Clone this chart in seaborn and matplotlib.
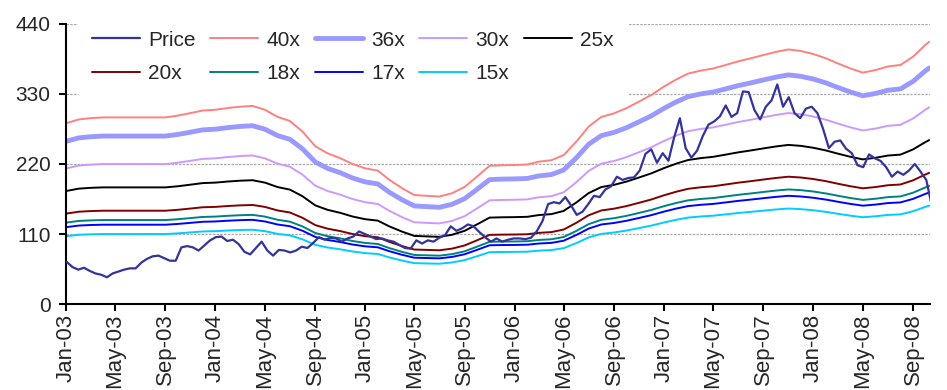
import matplotlib
matplotlib.use('Agg')
import matplotlib.pyplot as plt
import matplotlib.dates as mdates
import numpy as np
import pandas as pd
import seaborn as sns

# forward EPS (monthly, plus last obs)
eps_dates = pd.date_range('2003-01-01', '2008-10-01', freq='MS').append(pd.DatetimeIndex(['2008-10-10']))
eps = [7.10, 7.25, 7.30, 7.33, 7.33, 7.33, 7.33, 7.33, 7.33, 7.40,
       7.50, 7.60, 7.63, 7.70, 7.75, 7.78, 7.63, 7.35, 7.19, 6.77,
       6.20, 5.92, 5.73, 5.50, 5.33, 5.24, 4.88, 4.55, 4.28, 4.25,
       4.22, 4.35, 4.60, 5.00, 5.43, 5.45, 5.46, 5.48, 5.59, 5.65,
       5.85, 6.38, 6.97, 7.35, 7.49, 7.69, 7.95, 8.21, 8.54, 8.83,
       9.05, 9.17, 9.25, 9.39, 9.53, 9.65, 9.78, 9.90, 10.00, 9.94,
       9.82, 9.65, 9.45, 9.25, 9.09, 9.19, 9.33, 9.39, 9.72, 10.18, 10.30]

multiples = [40, 36, 30, 25, 20, 18, 17, 15]
band_colors = ['#FF8080', '#9999FF', '#CC99FF', '#000000', '#800000', '#008080', '#0000FF', '#00CCFF']

# share price, every second friday
price_dates = pd.date_range('2003-01-03', periods=152, freq='2W-FRI')
price = [66, 58, 54, 57, 52, 48, 46, 42, 48, 51,
         54, 56, 56, 65, 71, 75, 76, 72, 68, 68,
         89, 91, 89, 84, 92, 100, 105, 106, 99, 101,
         94, 82, 78, 88, 98, 84, 76, 85, 84, 81,
         84, 90, 88, 96, 105, 101, 104, 103, 98, 103,
         106, 114, 110, 106, 102, 103, 100, 98, 93, 88,
         87, 100, 95, 100, 98, 104, 108, 122, 115, 119,
         125, 122, 113, 105, 98, 103, 98, 101, 103, 103,
         102, 104, 114, 130, 157, 160, 158, 168, 155, 140,
         145, 157, 170, 168, 180, 185, 200, 195, 198, 199,
         210, 236, 243, 222, 237, 225, 262, 292, 245, 230,
         241, 264, 282, 287, 295, 312, 294, 300, 334, 333,
         305, 290, 310, 320, 345, 310, 325, 300, 292, 307,
         310, 300, 275, 245, 255, 257, 244, 237, 218, 215,
         235, 229, 225, 215, 200, 208, 203, 210, 220, 208,
         195, 153]

sns.set_style("white")
plt.rcParams['font.family'] = ['Liberation Sans', 'DejaVu Sans']

fig = plt.figure(figsize=(9.47, 3.90), dpi=100)
ax = fig.add_axes([0.0697, 0.2205, 0.9123, 0.718])

eps_arr = np.array(eps)
for m, c in zip(multiples, band_colors):
    sns.lineplot(x=eps_dates, y=eps_arr * m, color=c, lw=3.5 if m == 36 else 1.4,
                 label=f'{m}x', ax=ax, zorder=2)
sns.lineplot(x=price_dates, y=price, color='#333399', lw=1.6, label='Price', ax=ax, zorder=3)

# axes
ax.set_xlim(pd.Timestamp('2003-01-01'), pd.Timestamp('2008-10-12'))
ax.set_ylim(0, 440)
ax.set_yticks([0, 110, 220, 330, 440])
ax.set_xticks(pd.date_range('2003-01-01', '2008-09-01', freq='4MS'))
ax.xaxis.set_major_formatter(mdates.DateFormatter('%b-%y'))
plt.setp(ax.get_xticklabels(), rotation=90)
ax.set_xlabel('')
ax.set_ylabel('')

ax.yaxis.grid(True, color='#aaaaaa', linestyle=(0, (2, 1)), lw=0.9)
ax.xaxis.grid(False)
ax.set_axisbelow(True)
for s in ['top', 'right']:
    ax.spines[s].set_visible(False)
for s in ['left', 'bottom']:
    ax.spines[s].set_color('black')
    ax.spines[s].set_linewidth(1.5)
ax.tick_params(direction='out', length=5, width=1.5, labelsize=15, color='black')
ax.tick_params(axis='x', pad=2, bottom=True, labelsize=16)
ax.tick_params(axis='y', pad=6, left=True)

# legend, row-wise order
h, l = ax.get_legend_handles_labels()
d = dict(zip(l, h))
order = ['Price', '20x', '40x', '18x', '36x', '17x', '30x', '15x', '25x']
ax.legend([d[k] for k in order], order, ncol=5, loc='upper left',
          bbox_to_anchor=(0.014, 1.025), frameon=True, facecolor='white',
          edgecolor='none', framealpha=1, fontsize=15, handlelength=2.3,
          handletextpad=0.4, columnspacing=0.7, labelspacing=0.69,
          borderpad=0.66, borderaxespad=0)

plt.savefig('out.png', dpi=100)
